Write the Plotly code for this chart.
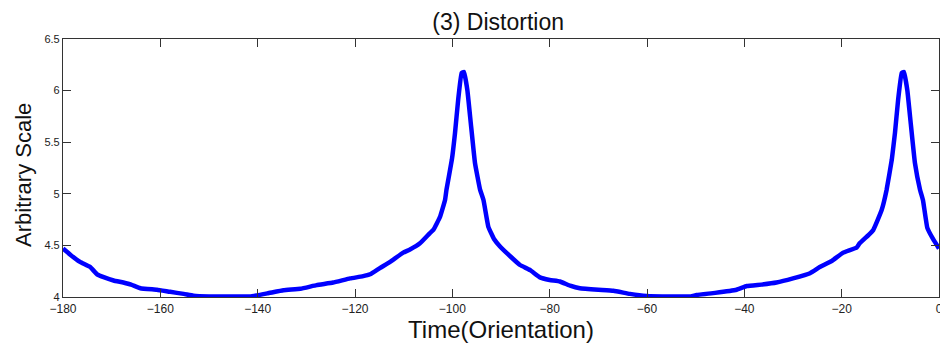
import plotly.graph_objects as go

time_deg = [-180, -178.5, -176.5, -174.4, -173, -171.5, -169.6, -167.6, -166, -164.1, -160.7, -158, -155.2,
            -153.2, -150, -145, -141.6, -138, -134.7, -131.2, -127.9, -124.5, -121, -118.5, -116.9, -114.9,
            -112.8, -110.1, -108.7, -106.65, -104.6, -103.9, -102.5, -101.5, -101.2, -100.1, -99.45, -98.8,
            -98.1, -97.6, -96.9, -96.2, -95.35, -94.3, -93.6, -92.6, -91.4, -90.2, -88, -86.1, -84, -82,
            -80, -77.9, -75.8, -73.8, -70, -66.9, -63.5, -60.1, -55, -51, -49.8, -46, -41.6, -39.5, -36.5,
            -33.4, -30, -26.5, -24.5, -22, -19.7, -16.9, -16.3, -14.5, -13.5, -11.8, -10.76, -9.7, -9.05,
            -8.4, -7.67, -7.2, -6.5, -5.8, -4.95, -3.9, -3.3, -2.4, -1.2, 0]
distortion = [4.47, 4.41, 4.34, 4.29, 4.22, 4.19, 4.16, 4.14, 4.12, 4.085, 4.07, 4.05, 4.03,
              4.012, 4.005, 4.005, 4.005, 4.035, 4.065, 4.08, 4.115, 4.14, 4.18, 4.2, 4.22, 4.28,
              4.34, 4.43, 4.46, 4.52, 4.62, 4.65, 4.78, 4.94, 5.04, 5.33, 5.59, 5.91,
              6.17, 6.18, 6.0, 5.68, 5.30, 5.04, 4.94, 4.68, 4.56, 4.49, 4.39, 4.31, 4.26, 4.19,
              4.165, 4.15, 4.11, 4.085, 4.07, 4.06, 4.03, 4.01, 4.005, 4.005, 4.02, 4.04, 4.07, 4.106, 4.12,
              4.14, 4.18, 4.23, 4.29, 4.35, 4.43, 4.48, 4.52, 4.6, 4.65, 4.84, 5.04, 5.33, 5.59,
              5.91, 6.17, 6.18, 6.0, 5.68, 5.30, 5.04, 4.94, 4.67, 4.56, 4.47]

x_ticks = [-180, -160, -140, -120, -100, -80, -60, -40, -20, 0]
y_ticks = [4, 4.5, 5, 5.5, 6, 6.5]
y_tick_text = ["4", "4.5", "5", "5.5", "6", "6.5"]

fig = go.Figure(go.Scatter(x=time_deg, y=distortion, mode="lines",
                           line=dict(color="#0000FF", width=4.5, shape="spline", smoothing=0.3),
                           showlegend=False))

axis_common = dict(showline=True, linecolor="#333333", linewidth=1.2, mirror="ticks",
                   ticks="inside", ticklen=8, tickcolor="#333333", showgrid=False, zeroline=False,
                   automargin=False, ticklabeloverflow="allow")

fig.update_layout(
    width=940, height=353,
    margin=dict(l=63, r=1, t=39, b=56),
    plot_bgcolor="white", paper_bgcolor="white",
    title=dict(text="(3) Distortion", x=0.530, xanchor="center", y=0.9377, yanchor="middle",
               font=dict(family="Liberation Sans", size=23, color="#111")),
    xaxis=dict(range=[-180, 0], tickvals=x_ticks,
               tickfont=dict(family="Liberation Sans", size=12, color="#222"),
               title=dict(text="Time(Orientation)", standoff=6,
                          font=dict(family="Liberation Sans", size=24, color="#111")),
               **axis_common),
    yaxis=dict(range=[4, 6.5], tickvals=y_ticks, ticktext=y_tick_text,
               tickfont=dict(family="Liberation Sans", size=11, color="#222"),
               **axis_common),
    annotations=[dict(text="Arbitrary Scale", textangle=-90, xref="paper", yref="paper",
                      x=0, y=0.473, xanchor="center", yanchor="middle", xshift=-39,
                      showarrow=False, font=dict(family="Liberation Sans", size=22, color="#111"))],
)

fig.write_html("out.html", config={"displayModeBar": False},
               post_script="document.body.style.margin='0';document.body.style.overflow='hidden';")
